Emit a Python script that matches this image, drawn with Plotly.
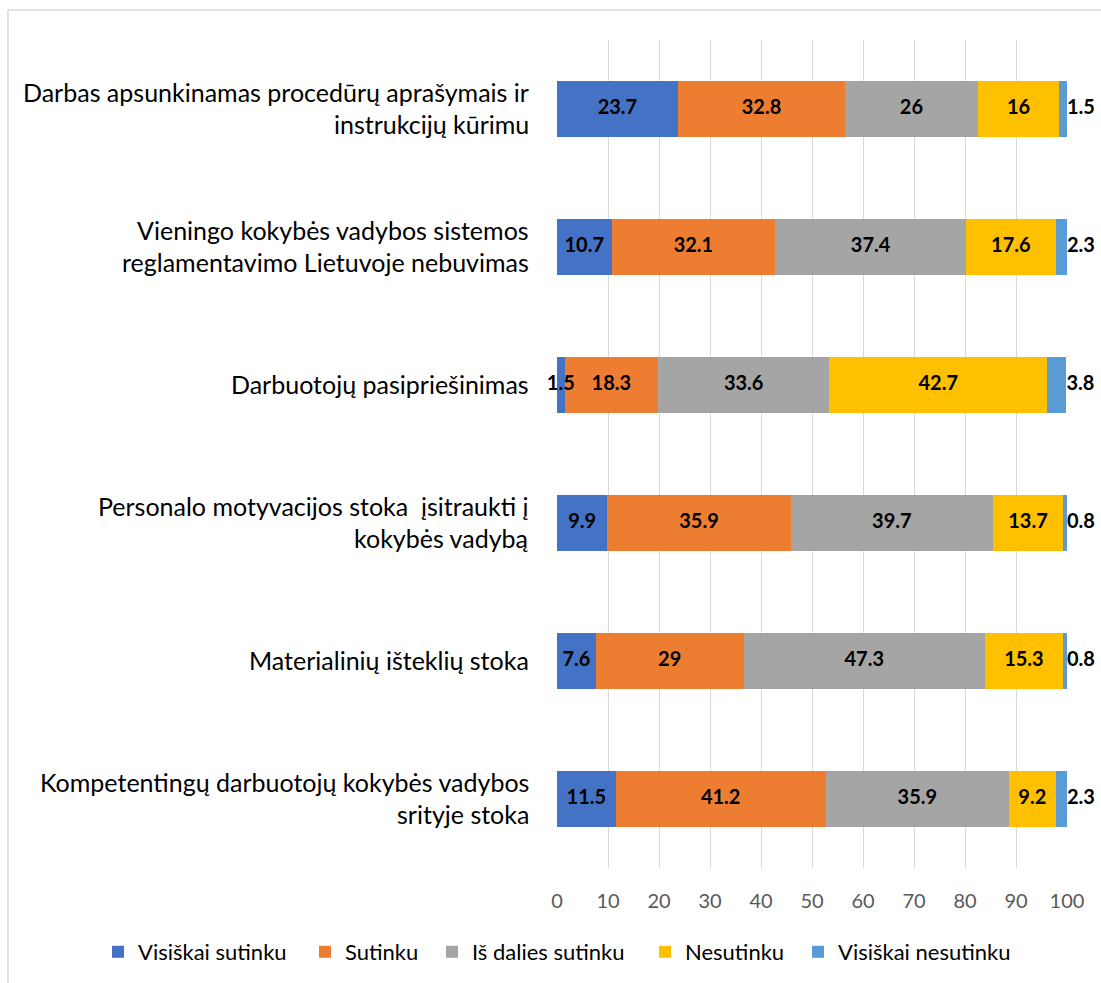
import numpy as np
import plotly.graph_objects as go

# Survey statements (top to bottom) and the share of answers per option, %
categories = [
    "Darbas apsunkinamas procedūrų aprašymais ir<br>instrukcijų kūrimu",
    "Vieningo kokybės vadybos sistemos<br>reglamentavimo Lietuvoje nebuvimas",
    "Darbuotojų pasipriešinimas",
    "Personalo motyvacijos stoka  įsitraukti į<br>kokybės vadybą",
    "Materialinių išteklių stoka",
    "Kompetentingų darbuotojų kokybės vadybos<br>srityje stoka",
]

visiskai_sutinku = [23.7, 10.7, 1.5, 9.9, 7.6, 11.5]
sutinku = [32.8, 32.1, 18.3, 35.9, 29, 41.2]
is_dalies_sutinku = [26, 37.4, 33.6, 39.7, 47.3, 35.9]
nesutinku = [16, 17.6, 42.7, 13.7, 15.3, 9.2]
visiskai_nesutinku = [1.5, 2.3, 3.8, 0.8, 0.8, 2.3]

series_names = ["Visiškai sutinku", "Sutinku", "Iš dalies sutinku",
                "Nesutinku", "Visiškai nesutinku"]
series_values = [visiskai_sutinku, sutinku, is_dalies_sutinku,
                 nesutinku, visiskai_nesutinku]
series_colors = ["#4472C4", "#ED7D31", "#A5A5A5", "#FFC000", "#5B9BD5"]

x_ticks = list(range(0, 101, 10))
X_MAX = 100

FONT = "Lato"
LABEL_FONT = dict(family=FONT, size=20, color="black", weight="bold")

# Left edge (px) of each legend entry's text along the bottom row
legend_text_left = [138, 345, 472, 685, 838]

fig = go.Figure()

for i, (name, values, color) in enumerate(zip(series_names, series_values, series_colors)):
    legend_id = "legend" if i == 0 else f"legend{i + 1}"
    fig.add_trace(go.Bar(
        name=name,
        y=categories,
        x=values,
        orientation="h",
        marker=dict(color=color, line=dict(width=0)),
        legend=legend_id,
        hoverinfo="skip",
    ))

# Value labels drawn on top of the stacked segments
arr = np.array(series_values, dtype=float)
starts = np.vstack([np.zeros(arr.shape[1]), np.cumsum(arr, axis=0)[:-1]])
for i, values in enumerate(series_values):
    last = i == len(series_values) - 1
    if last:
        # just past the visible end of each bar (totals may round above 100)
        xpos = np.minimum(starts[i] + arr[i], X_MAX)
        pos = "middle right"
    else:
        xpos = starts[i] + arr[i] / 2
        pos = "middle center"
    fig.add_trace(go.Scatter(
        x=xpos, y=categories,
        mode="text",
        text=[f"{v:g}" for v in values],
        textposition=pos,
        textfont=LABEL_FONT,
        cliponaxis=False,
        showlegend=False,
        hoverinfo="skip",
    ))

# Category labels: each line centred, block right-aligned next to the plot
for cat in categories:
    lines = cat.split("<br>")
    n = len(lines)
    for j, line in enumerate(lines):
        offset = (j - (n - 1) / 2) * 32
        fig.add_annotation(
            x=0, xref="paper", xshift=-26,
            y=cat, yref="y", yshift=-offset + 1,
            text=line, showarrow=False,
            xanchor="right", yanchor="middle",
            font=dict(family=FONT, size=25, color="black"),
        )

legend_common = dict(
    orientation="h",
    xref="container", yref="container",
    xanchor="left",
    y=(983 - 952) / 983, yanchor="middle",
    font=dict(family=FONT, size=22, color="black"),
    bgcolor="rgba(0,0,0,0)",
)
legends = {}
for i, left in enumerate(legend_text_left):
    key = "legend" if i == 0 else f"legend{i + 1}"
    legends[key] = dict(legend_common, x=(left - 40) / 1101)

fig.update_layout(
    width=1101, height=983,
    margin=dict(l=557, r=34, t=40, b=115),
    paper_bgcolor="white", plot_bgcolor="white",
    barmode="stack",
    bargap=0.594,
    showlegend=True,
    font=dict(family=FONT),
    shapes=[
        dict(type="line", xref="paper", yref="paper",
             x0=-1.0765, x1=1.1, y0=1.0362, y1=1.0362,
             line=dict(color="#d9d9d9", width=1.5)),
        dict(type="line", xref="paper", yref="paper",
             x0=-1.0765, x1=-1.0765, y0=1.0362, y1=-0.2,
             line=dict(color="#d9d9d9", width=1.5)),
    ],
    **legends,
)

fig.update_xaxes(
    range=[0, X_MAX],
    tickvals=x_ticks,
    showgrid=True, gridcolor="#d9d9d9", gridwidth=1,
    zeroline=False, showline=False,
    tickfont=dict(family=FONT, size=20, color="#595959"),
    ticklabelstandoff=19,
    fixedrange=True,
)
fig.update_yaxes(
    autorange="reversed",
    showticklabels=False,
    showgrid=False, zeroline=False, showline=False,
    fixedrange=True,
)

fig.write_html("out.html")
